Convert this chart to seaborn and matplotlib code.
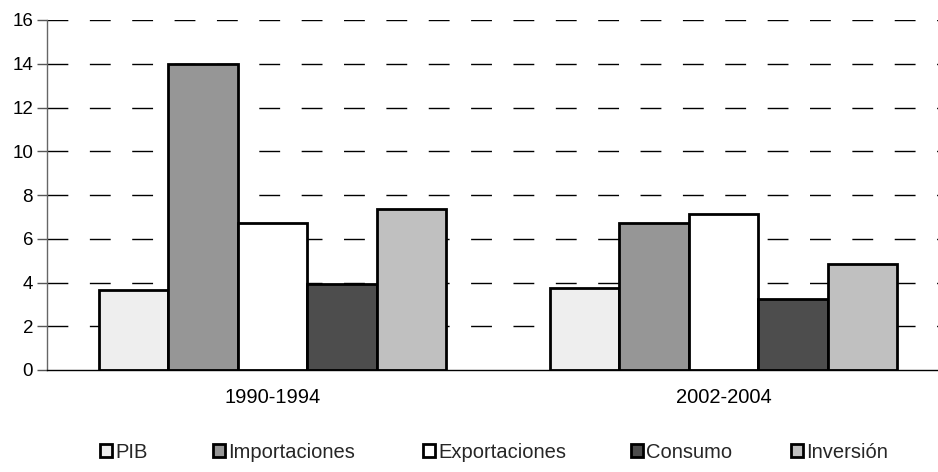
import matplotlib
matplotlib.use("Agg")
import matplotlib.pyplot as plt
from matplotlib.patches import Patch
import seaborn as sns
import pandas as pd

periods = ["1990-1994", "2002-2004"]
series = ["PIB", "Importaciones", "Exportaciones", "Consumo", "Inversión"]
pib = [3.66, 3.73]
importaciones = [14.0, 6.73]
exportaciones = [6.73, 7.15]
consumo = [3.92, 3.26]
inversion = [7.35, 4.83]
y_ticks = [0, 2, 4, 6, 8, 10, 12, 14, 16]

colors = ["#EEEEEE", "#969696", "#FFFFFF", "#4D4D4D", "#C0C0C0"]

values = {"PIB": pib, "Importaciones": importaciones, "Exportaciones": exportaciones,
          "Consumo": consumo, "Inversión": inversion}
rows = []
for s in series:
    for p, v in zip(periods, values[s]):
        rows.append({"periodo": p, "serie": s, "valor": v})
df = pd.DataFrame(rows)

sns.set_style("white")
plt.rcParams["font.family"] = ["Liberation Sans", "DejaVu Sans"]

fig = plt.figure(figsize=(9.38, 4.72), dpi=100)
ax = fig.add_axes([47 / 938, 102 / 472, 902 / 938, 350 / 472])

sns.barplot(data=df, x="periodo", y="valor", hue="serie", order=periods,
            hue_order=series, palette=colors, width=0.77, gap=0,
            edgecolor="black", linewidth=2.0, saturation=1, ax=ax, legend=False)

ax.set_xlim(-0.5, 1.5)
ax.set_ylim(0, 16)
ax.set_yticks(y_ticks)
ax.set_yticklabels([str(t) for t in y_ticks], fontsize=13.5, color="black")
ax.set_xticks([0, 1])
ax.set_xticklabels(periods, fontsize=14.5, color="black")
ax.set_xticks([0.5], minor=True)
ax.tick_params(axis="x", which="major", length=0, pad=13)
ax.tick_params(axis="x", which="minor", length=5, width=1, color="black", direction="out")
ax.tick_params(axis="y", length=7, width=1, color="#555555", direction="out", pad=3, left=True)
ax.set_xlabel("")
ax.set_ylabel("")

for t in y_ticks[1:]:
    ax.axhline(t, color="black", lw=1.0, linestyle=(0, (15, 15.5)), zorder=0.5)

for side in ["top", "right"]:
    ax.spines[side].set_visible(False)
ax.spines["left"].set_color("#666666")
ax.spines["left"].set_linewidth(1.0)
ax.spines["bottom"].set_color("black")
ax.spines["bottom"].set_linewidth(1.0)
ax.set_axisbelow(True)

# legend entries laid out in one row along the bottom
legend_x = [100, 213, 423, 631, 791]
for name, c, lx in zip(series, colors, legend_x):
    h = Patch(facecolor=c, edgecolor="black", linewidth=2.0)
    fig.legend([h], [name], loc="center left", bbox_to_anchor=(lx / 938, 1 - 452 / 472),
               frameon=False, fontsize=14.5, handlelength=0.6, handleheight=0.62,
               handletextpad=0.15, borderpad=0, borderaxespad=0)

fig.savefig("out.png", dpi=100)
